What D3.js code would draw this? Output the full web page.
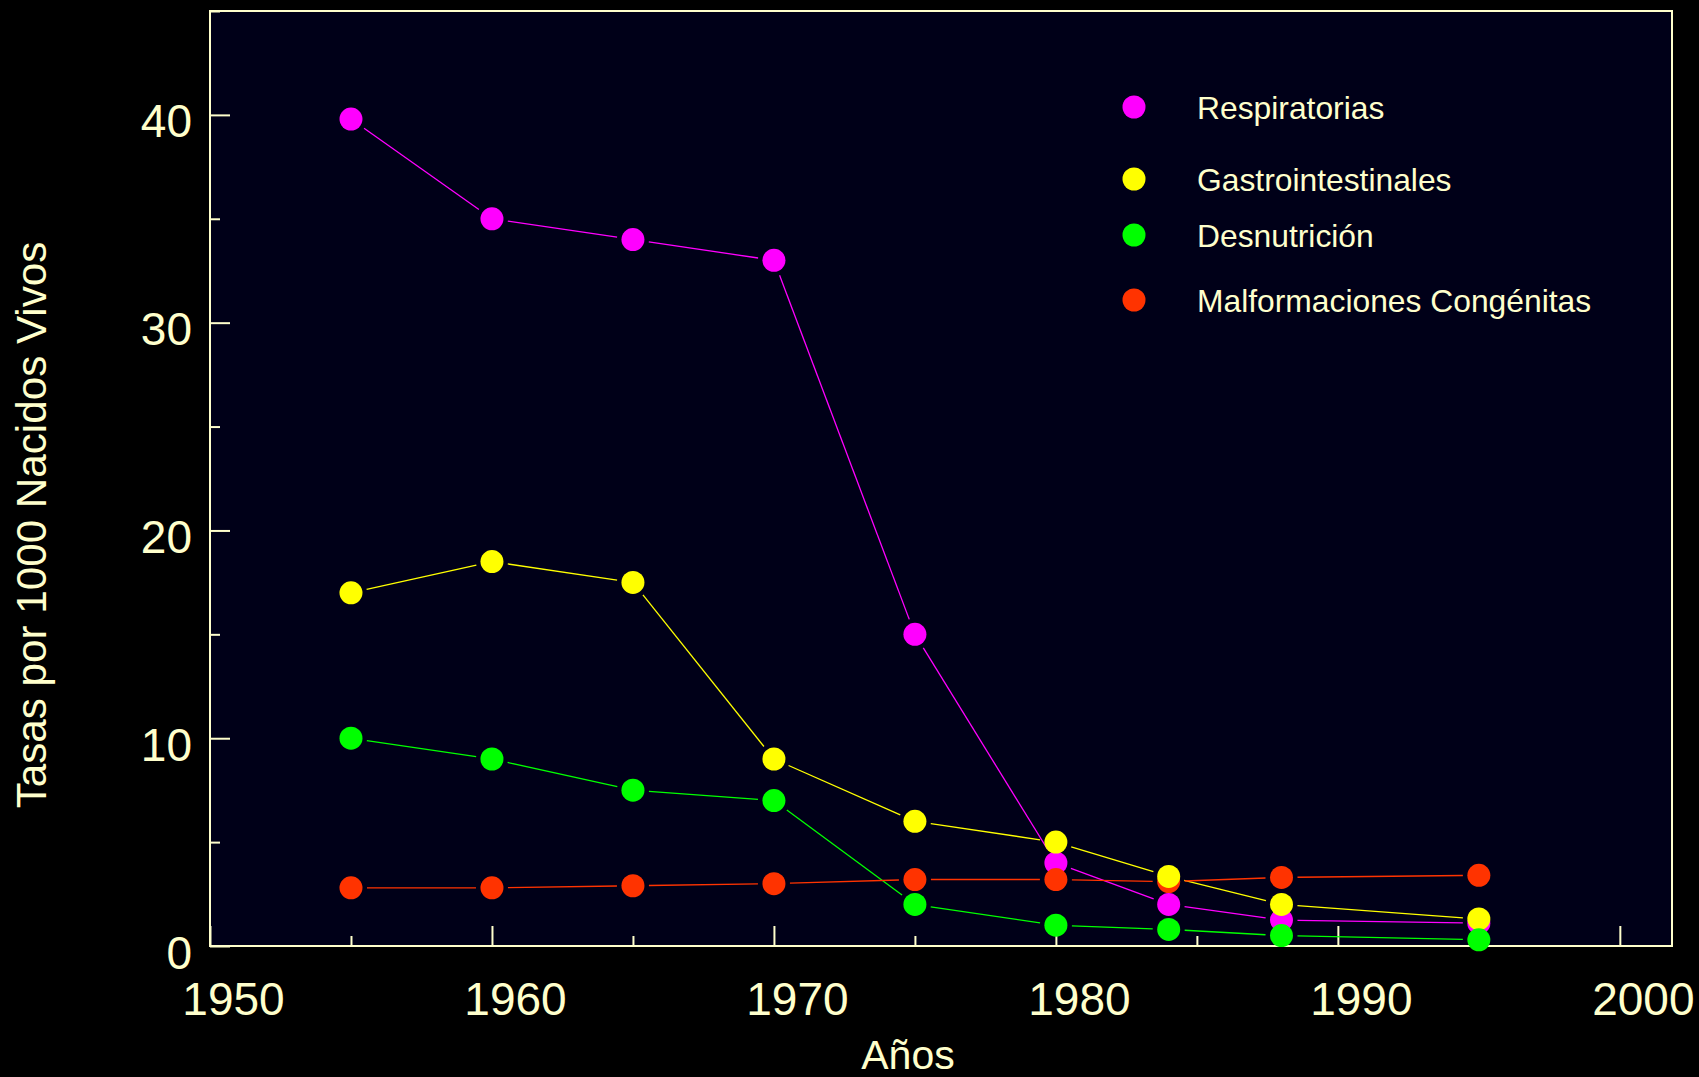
<!DOCTYPE html>
<html>
<head>
<meta charset="utf-8">
<script src="https://cdn.jsdelivr.net/npm/d3@7"></script>
<style>
  html, body { margin: 0; padding: 0; background: #000; }
  svg { display: block; }
  text { font-family: "Liberation Sans", Arial, Helvetica, sans-serif; fill: #FFFFCC; }
</style>
</head>
<body>
<svg id="chart" width="1699" height="1077"></svg>
<script>
// ---- Data ----
const years = [1955, 1960, 1965, 1970, 1975, 1980, 1984, 1988, 1995];
const respiratorias = [39.8, 35.0, 34.0, 33.0, 15.0, 4.0, 2.0, 1.25, 1.1];
const gastrointestinales = [17.0, 18.5, 17.5, 9.0, 6.0, 5.0, 3.35, 2.0, 1.3];
const desnutricion = [10.0, 9.0, 7.5, 7.0, 2.0, 1.0, 0.8, 0.5, 0.3];
const malformaciones = [2.8, 2.8, 2.9, 3.0, 3.2, 3.2, 3.1, 3.3, 3.4];
const seriesNames = ["Respiratorias", "Gastrointestinales", "Desnutrición", "Malformaciones Congénitas"];
const seriesColors = ["#FF00FF", "#FFFF00", "#00FF00", "#FF3300"];
const xMajorTicks = [1950, 1960, 1970, 1980, 1990, 2000];
const xMinorTicks = [1955, 1965, 1975, 1985, 1995];
const yMajorTicks = [0, 10, 20, 30, 40];
const yMinorTicks = [5, 15, 25, 35, 45];
const xTitle = "Años";
const yTitle = "Tasas por 1000 Nacidos Vivos";

(function () {
const seriesValues = [respiratorias, gastrointestinales, desnutricion, malformaciones];
const series = seriesNames.map((name, i) => ({
  name, color: seriesColors[i],
  points: years.map((yr, j) => ({ year: yr, value: seriesValues[i][j] }))
}));

// ---- Layout ----
const svg = d3.select("#chart");
const W = 1699, H = 1077;
const pL = 210, pR = 1672, pT = 11, pB = 946;
const axisColor = "#FFFFCC";

const x = d3.scaleLinear().domain([1950, 2001.85]).range([pL, pR]);
const y = d3.scaleLinear().domain([0, 45]).range([pB, pT]);

svg.append("rect").attr("width", W).attr("height", H).attr("fill", "#000");
svg.append("rect").attr("x", pL).attr("y", pT)
  .attr("width", pR - pL).attr("height", pB - pT)
  .attr("fill", "#000018");

// ---- Axes (inward ticks) ----
function styleAxis(g) {
  g.select(".domain").remove();
  g.selectAll("line").attr("stroke", axisColor).attr("stroke-width", 2);
}
const gxMaj = svg.append("g").attr("transform", `translate(0,${pB})`)
  .call(d3.axisBottom(x).tickValues(xMajorTicks).tickSize(-20).tickPadding(0).tickFormat(d3.format("d")));
styleAxis(gxMaj);
gxMaj.selectAll("text")
  .attr("font-size", 46).attr("fill", axisColor)
  .attr("dx", 23).attr("y", 69).attr("dy", 0)
  .attr("text-anchor", "middle");

const gxMin = svg.append("g").attr("transform", `translate(0,${pB})`)
  .call(d3.axisBottom(x).tickValues(xMinorTicks).tickSize(-10).tickFormat(""));
styleAxis(gxMin);

const gyMaj = svg.append("g").attr("transform", `translate(${pL},0)`)
  .call(d3.axisLeft(y).tickValues(yMajorTicks).tickSize(-20).tickPadding(0).tickFormat(d3.format("d")));
styleAxis(gyMaj);
gyMaj.selectAll("text")
  .attr("font-size", 46).attr("fill", axisColor)
  .attr("x", -18).attr("dy", 0).attr("y", 22)
  .attr("text-anchor", "end");

const gyMin = svg.append("g").attr("transform", `translate(${pL},0)`)
  .call(d3.axisLeft(y).tickValues(yMinorTicks).tickSize(-10).tickFormat(""));
styleAxis(gyMin);

// Frame
svg.append("rect").attr("x", pL).attr("y", pT)
  .attr("width", pR - pL).attr("height", pB - pT)
  .attr("fill", "none").attr("stroke", axisColor).attr("stroke-width", 2);

// ---- Titles ----
svg.append("text").attr("x", 908).attr("y", 1069)
  .attr("text-anchor", "middle").attr("font-size", 41).text(xTitle);
svg.append("text")
  .attr("transform", "translate(46,525) rotate(-90)")
  .attr("text-anchor", "middle").attr("font-size", 42.2).text(yTitle);

// ---- Lines (segments with gaps around markers) ----
const gap = 16;
const lineLayer = svg.append("g");
series.forEach(s => {
  const segs = d3.pairs(s.points).map(([a, b]) => {
    const x1 = x(a.year), y1 = y(a.value), x2 = x(b.year), y2 = y(b.value);
    const len = Math.hypot(x2 - x1, y2 - y1);
    const ux = (x2 - x1) / len, uy = (y2 - y1) / len;
    return { x1: x1 + ux * gap, y1: y1 + uy * gap, x2: x2 - ux * gap, y2: y2 - uy * gap };
  });
  lineLayer.selectAll(null).data(segs).enter().append("line")
    .attr("x1", d => d.x1).attr("y1", d => d.y1)
    .attr("x2", d => d.x2).attr("y2", d => d.y2)
    .attr("stroke", s.color).attr("stroke-width", 1.3);
});

// ---- Markers (draw order: magenta, red, yellow, green) ----
const order = [0, 3, 1, 2];
const markerLayer = svg.append("g");
order.forEach(i => {
  const s = series[i];
  markerLayer.selectAll(null).data(s.points).enter().append("circle")
    .attr("cx", d => x(d.year)).attr("cy", d => y(d.value))
    .attr("r", 11.5).attr("fill", s.color);
});

// ---- Legend ----
const legendYs = [107, 179, 235, 300];
const legend = svg.append("g");
series.forEach((s, i) => {
  legend.append("circle").attr("cx", 1134).attr("cy", legendYs[i]).attr("r", 11.5).attr("fill", s.color);
  legend.append("text").attr("x", 1197).attr("y", legendYs[i] + 12)
    .attr("font-size", 31.8).text(s.name);
});
})();
</script>
</body>
</html>
